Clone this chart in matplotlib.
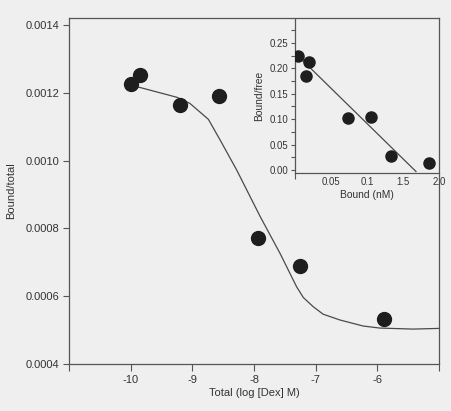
import matplotlib
matplotlib.use('Agg')
import matplotlib.pyplot as plt
import numpy as np

plt.rcParams['font.family'] = ['Liberation Sans', 'DejaVu Sans']

# Данные основного графика (связывание vs log[Dex])
log_dex = [-10.0, -9.85, -9.2, -8.57, -7.94, -7.26, -5.9]
bound_total = [0.001225, 0.001253, 0.001165, 0.00119, 0.000772, 0.000688, 0.000533]

# Аппроксимирующая кривая (точки)
curve_x = [-10.0, -9.85, -9.25, -9.04, -8.74, -8.55, -8.28, -7.90, -7.58,
           -7.31, -7.20, -7.04, -6.88, -6.61, -6.23, -5.96, -5.42, -5.0]
curve_y = [0.00122, 0.001216, 0.001187, 0.001169, 0.001122, 0.001061, 0.000972,
           0.000835, 0.000727, 0.000628, 0.000596, 0.000569, 0.000547, 0.00053,
           0.000512, 0.000506, 0.000503, 0.000505]

# Скэтчард (вставка)
bound_nm = [0.0046, 0.020, 0.0148, 0.074, 0.105, 0.133, 0.186]
bound_free = [0.224, 0.212, 0.184, 0.102, 0.104, 0.027, 0.013]
fit_x = [0.0, 0.168]
fit_y = [0.23, -0.003]

main_xticks = [-11, -10, -9, -8, -7, -6, -5]
main_xlabels = ['', '-10', '-9', '-8', '-7', '-6', '']
main_yticks = [0.0004, 0.0006, 0.0008, 0.0010, 0.0012, 0.0014]
main_ylabels = ['0.0004', '0.0006', '0.0008', '0.0010', '0.0012', '0.0014']
inset_xticks = [0.05, 0.1, 0.15, 0.2]
inset_xlabels = ['0.05', '0.1', '1.5', '2.0']
inset_yticks = [0.0, 0.05, 0.10, 0.15, 0.20, 0.25]
inset_ylabels = ['0.00', '0.05', '0.10', '0.15', '0.20', '0.25']

bg = '#efefef'
spine_c = '#555555'
text_c = '#333333'
dot_c = '#1e1e1e'

fig = plt.figure(figsize=(4.52, 4.11), dpi=100, facecolor=bg)
ax = fig.add_axes([0.1527, 0.1144, 0.8186, 0.8418], facecolor=bg)

ax.plot(curve_x, curve_y, color='#4a4a4a', lw=0.9, zorder=2)
ax.plot(log_dex, bound_total, 'o', color=dot_c, ms=10, zorder=3)

ax.set_xlim(-11, -5)
ax.set_ylim(0.0004, 0.001421)
ax.set_xticks(main_xticks)
ax.set_xticklabels(main_xlabels)
ax.set_yticks(main_yticks)
ax.set_yticklabels(main_ylabels)
ax.tick_params(axis='both', direction='out', length=5, width=0.8, color=spine_c,
               labelsize=8, labelcolor=text_c, pad=3)
ax.tick_params(axis='y', length=4)
for s in ax.spines.values():
    s.set_color(spine_c)
    s.set_linewidth(0.9)
ax.set_xlabel('Total (log [Dex] M)', fontsize=8, color=text_c, labelpad=2)
ax.set_ylabel('Bound/total', fontsize=8, color=text_c, labelpad=7)

# Вставка
axi = fig.add_axes([0.6527, 0.579, 0.3186, 0.375], facecolor='none')
axi.plot(fit_x, fit_y, color='#4a4a4a', lw=0.9, zorder=2)
axi.plot(bound_nm, bound_free, 'o', color=dot_c, ms=8, zorder=3)
axi.set_xlim(0, 0.2)
axi.set_ylim(-0.006, 0.297)
axi.set_xticks(inset_xticks)
axi.set_xticklabels(inset_xlabels)
axi.set_xticks([0.0], minor=True)
axi.set_yticks(inset_yticks)
axi.set_yticklabels(inset_ylabels)
axi.set_yticks([0.025, 0.075, 0.125, 0.175, 0.225, 0.275], minor=True)
axi.tick_params(axis='x', which='major', length=0, labelsize=6.9, labelcolor=text_c, pad=3)
axi.tick_params(axis='x', which='minor', length=4, width=0.8, color=spine_c)
axi.tick_params(axis='y', which='both', direction='out', length=3, width=0.8,
                color=spine_c, labelsize=6.9, labelcolor=text_c, pad=2)
axi.spines['top'].set_visible(False)
axi.spines['right'].set_visible(False)
for side in ['left', 'bottom']:
    axi.spines[side].set_color(spine_c)
    axi.spines[side].set_linewidth(0.9)
axi.set_xlabel('Bound (nM)', fontsize=7.4, color=text_c, labelpad=2)
axi.set_ylabel('Bound/free', fontsize=7.4, color=text_c, labelpad=4)

plt.savefig('out.png', dpi=100, facecolor=bg)
